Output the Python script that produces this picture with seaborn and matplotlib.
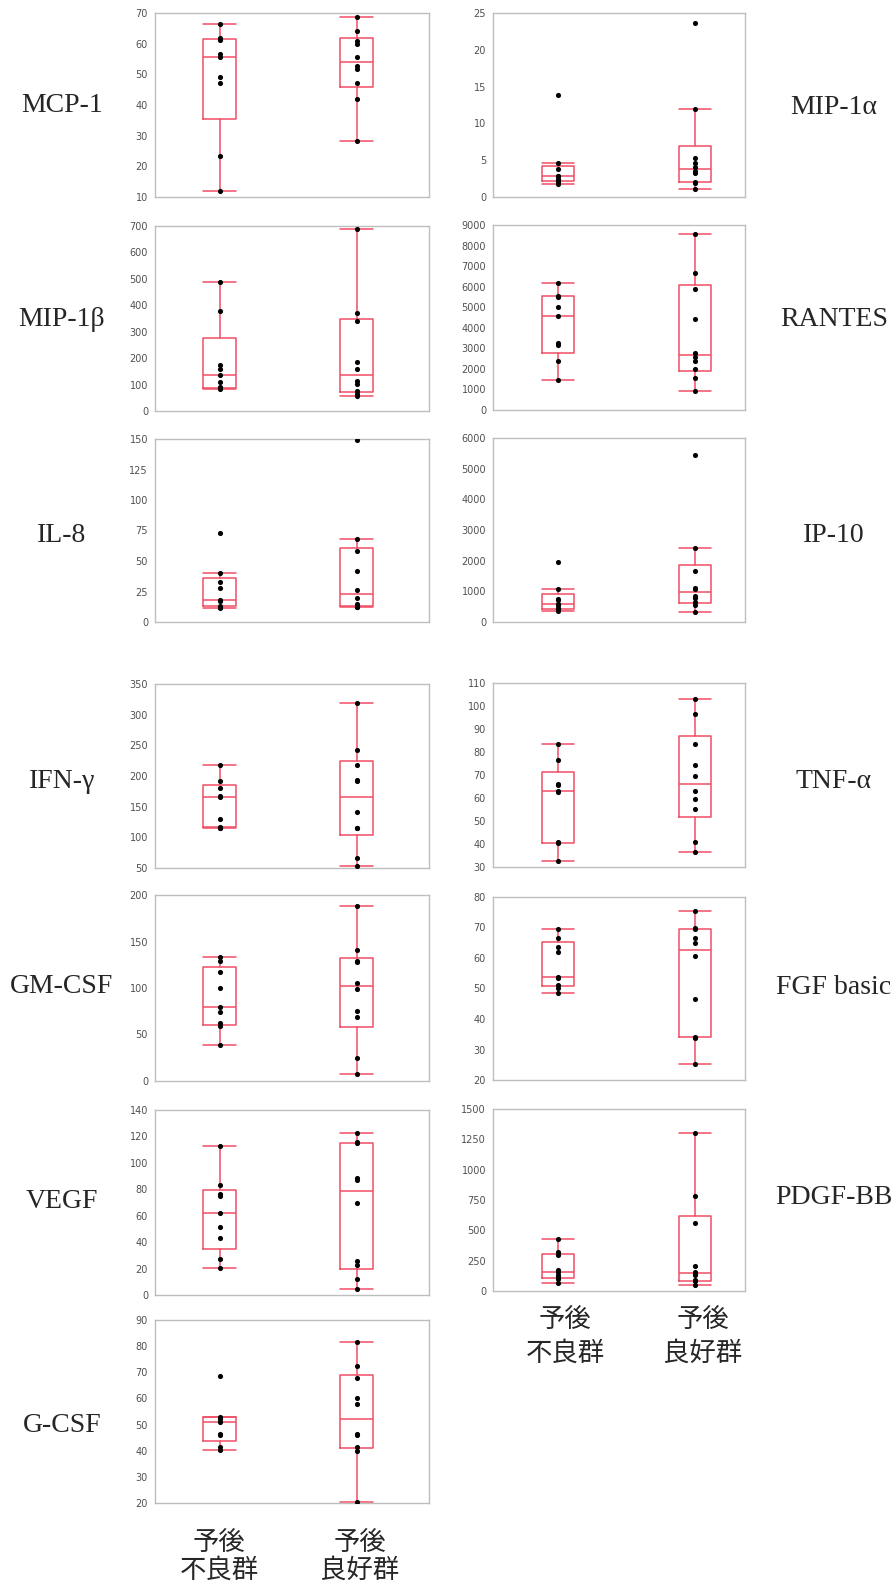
import numpy as np
import pandas as pd
import matplotlib
matplotlib.use("Agg")
import matplotlib.pyplot as plt
import seaborn as sns
from matplotlib.ticker import MultipleLocator, FixedLocator

# ---- measurements per cytokine: poor-prognosis group vs good-prognosis group ----
group_labels = ["予後\n不良群", "予後\n良好群"]

mcp1_poor = [12.1, 23.3, 47.3, 49.0, 55.5, 56.6, 61.2, 61.8, 66.5]
mcp1_good = [28.1, 42.1, 47.3, 51.7, 52.8, 55.5, 60.0, 61.0, 64.0, 68.7]

mip1a_poor = [1.8, 2.0, 2.3, 2.5, 2.8, 2.9, 3.8, 4.6, 13.9]
mip1a_good = [1.1, 1.9, 2.0, 3.2, 3.6, 4.1, 4.6, 5.3, 12.0, 23.6]

mip1b_poor = [83, 87, 90, 108, 135, 158, 173, 377, 487]
mip1b_good = [55, 66, 74, 101, 115, 158, 187, 339, 372, 687]

rantes_poor = [1454, 2375, 3151, 3248, 4573, 5025, 5494, 5558, 6156]
rantes_good = [905, 1551, 1988, 2375, 2601, 2795, 4443, 5882, 6674, 8564]

il8_poor = [11.6, 12.3, 13.2, 17.0, 17.9, 28.1, 32.5, 40.3, 72.9]
il8_good = [12.2, 12.6, 13.0, 15.1, 19.5, 26.4, 42.1, 57.8, 68.0, 149.2]

ip10_poor = [349, 420, 452, 545, 589, 709, 763, 1091, 1964]
ip10_good = [327, 570, 640, 790, 850, 1090, 1120, 1665, 2400, 5455]

ifng_poor = [115, 116, 117, 130, 166, 168, 180, 192, 218]
ifng_good = [54, 67, 115, 116, 141, 192, 194, 218, 242, 319]

tnfa_poor = [32.5, 40.3, 40.7, 62.6, 62.9, 65.8, 66.2, 76.7, 83.5]
tnfa_good = [36.4, 40.7, 55.4, 59.7, 62.9, 69.7, 74.5, 83.5, 96.7, 103.2]

gmcsf_poor = [38.4, 59.5, 62.0, 74.6, 79.6, 99.6, 117.0, 129.0, 133.0]
gmcsf_good = [7.9, 25.1, 68.5, 75.6, 98.6, 105.7, 127.6, 129.0, 141.0, 188.0]

fgf_poor = [48.4, 50.2, 51.3, 53.3, 53.8, 62.0, 63.6, 66.6, 69.6]
fgf_good = [25.3, 33.9, 34.0, 46.6, 60.5, 64.8, 66.4, 69.5, 69.7, 75.4]

vegf_poor = [20.6, 26.9, 43.0, 51.5, 62.1, 74.6, 76.2, 83.2, 112.6]
vegf_good = [4.3, 11.8, 22.6, 25.4, 69.9, 87.2, 88.5, 114.9, 115.6, 122.9]

pdgf_poor = [69, 95, 118, 133, 157, 174, 293, 318, 431]
pdgf_good = [47, 80, 88, 133, 144, 160, 210, 561, 779, 1301]

gcsf_poor = [40.2, 41.5, 46.0, 46.5, 51.0, 52.0, 52.5, 53.0, 68.5]
gcsf_good = [20.3, 40.0, 41.5, 46.0, 46.5, 58.0, 60.0, 68.0, 72.5, 81.5]

# name, poor, good, (ymin, ymax), major step, minor step, column,
# (top px, bottom px), label y px
panels = [
    ("MCP-1", mcp1_poor, mcp1_good, (10, 70), 10, None, "L", (13, 197), 105),
    ("MIP-1β", mip1b_poor, mip1b_good, (0, 700), 100, None, "L", (226, 411), 319),
    ("IL-8", il8_poor, il8_good, (0, 150), 25, None, "L", (439, 622), 536),
    ("IFN-γ", ifng_poor, ifng_good, (50, 350), 50, None, "L", (684, 868), 781),
    ("GM-CSF", gmcsf_poor, gmcsf_good, (0, 200), 50, 25, "L", (895, 1081), 986),
    ("VEGF", vegf_poor, vegf_good, (0, 140), 20, None, "L", (1110, 1295), 1201),
    ("G-CSF", gcsf_poor, gcsf_good, (20, 90), 10, None, "L", (1320, 1503), 1425),
    ("MIP-1α", mip1a_poor, mip1a_good, (0, 25), 5, 2.5, "R", (13, 197), 107),
    ("RANTES", rantes_poor, rantes_good, (0, 9000), 1000, None, "R", (225, 410), 319),
    ("IP-10", ip10_poor, ip10_good, (0, 6000), 1000, None, "R", (438, 622), 536),
    ("TNF-α", tnfa_poor, tnfa_good, (30, 110), 10, None, "R", (683, 867), 781),
    ("FGF basic", fgf_poor, fgf_good, (20, 80), 10, None, "R", (897, 1080), 987),
    ("PDGF-BB", pdgf_poor, pdgf_good, (0, 1500), 250, None, "R", (1109, 1291), 1198),
]

W, H = 892, 1583
RED = "#F04E64"
SPINE = "#BEBEBE"
TICKTXT = "#505050"

columns = {
    "L": dict(x0=155, x1=429, xlim=(-0.474, 1.526), label_x=62),
    "R": dict(x0=493, x1=745, xlim=(-0.475, 1.365), label_x=834),
}

sns.set_style("white")
plt.rcParams["font.family"] = ["DejaVu Sans"]

fig = plt.figure(figsize=(W / 100, H / 100), dpi=100)
fig.patch.set_facecolor("white")


def quantile_stats(values):
    """Box statistics with (n+1)p quantiles and 1.5*IQR whiskers."""
    v = np.sort(np.asarray(values, dtype=float))
    q1, med, q3 = np.percentile(v, [25, 50, 75], method="weibull")
    iqr = q3 - q1
    lo = v[v >= q1 - 1.5 * iqr].min()
    hi = v[v <= q3 + 1.5 * iqr].max()
    return dict(med=med, q1=q1, q3=q3, whislo=lo, whishi=hi, fliers=[])


for name, poor, good, ylim, major, minor, col, (top, bottom), label_y in panels:
    c = columns[col]
    ax = fig.add_axes([c["x0"] / W, 1 - bottom / H,
                       (c["x1"] - c["x0"]) / W, (bottom - top) / H])

    df = pd.DataFrame({
        "group": ["poor"] * len(poor) + ["good"] * len(good),
        "value": list(poor) + list(good),
    })

    line = dict(color=RED, linewidth=1.1)
    ax.bxp([quantile_stats(poor), quantile_stats(good)], positions=[0, 1],
           widths=0.24, capwidths=0.24, showfliers=False, manage_ticks=False,
           boxprops=line, whiskerprops=line, capprops=line, medianprops=line,
           zorder=2)
    sns.stripplot(data=df, x="group", y="value", order=["poor", "good"],
                  jitter=False, color="black", size=3.7, linewidth=0,
                  ax=ax, zorder=3)

    ax.set_xlim(*c["xlim"])
    ax.set_ylim(*ylim)
    ax.set_xlabel("")
    ax.set_ylabel("")

    ax.yaxis.set_major_locator(MultipleLocator(major))
    if minor:
        ax.yaxis.set_minor_locator(MultipleLocator(minor))
    ax.xaxis.set_major_locator(FixedLocator([0.47]))
    ax.xaxis.set_minor_locator(FixedLocator([0, 1]))
    ax.set_xticklabels([])

    ax.tick_params(axis="y", which="major", length=3.5, width=0.8, color="#9A9A9A",
                   labelsize=7, labelcolor=TICKTXT, pad=1.5)
    ax.tick_params(axis="y", which="minor", length=2, width=0.7, color="#B0B0B0")
    ax.tick_params(axis="x", which="major", length=4, width=0.8, color="#9A9A9A")
    ax.tick_params(axis="x", which="minor", length=2, width=0.6, color="#D0D0D0")

    for s in ax.spines.values():
        s.set_visible(True)
        s.set_color(SPINE)
        s.set_linewidth(1.0)
    ax.set_facecolor("white")

    fig.text(c["label_x"] / W, 1 - label_y / H, name,
             ha="center", va="center", fontsize=20,
             family=["Liberation Serif", "DejaVu Serif"])

# group names under the bottom panel of each column
cjk = ["Noto Sans CJK JP", "DejaVu Sans"]
for xs, ytop, spacing in (((219, 360), 1529, 1.05), ((565, 703), 1306, 1.3)):
    for x, lab in zip(xs, group_labels):
        fig.text(x / W, 1 - ytop / H, lab, ha="center", va="top",
                 fontsize=19, family=cjk, linespacing=spacing)

fig.savefig("out.png", dpi=100, facecolor="white")
